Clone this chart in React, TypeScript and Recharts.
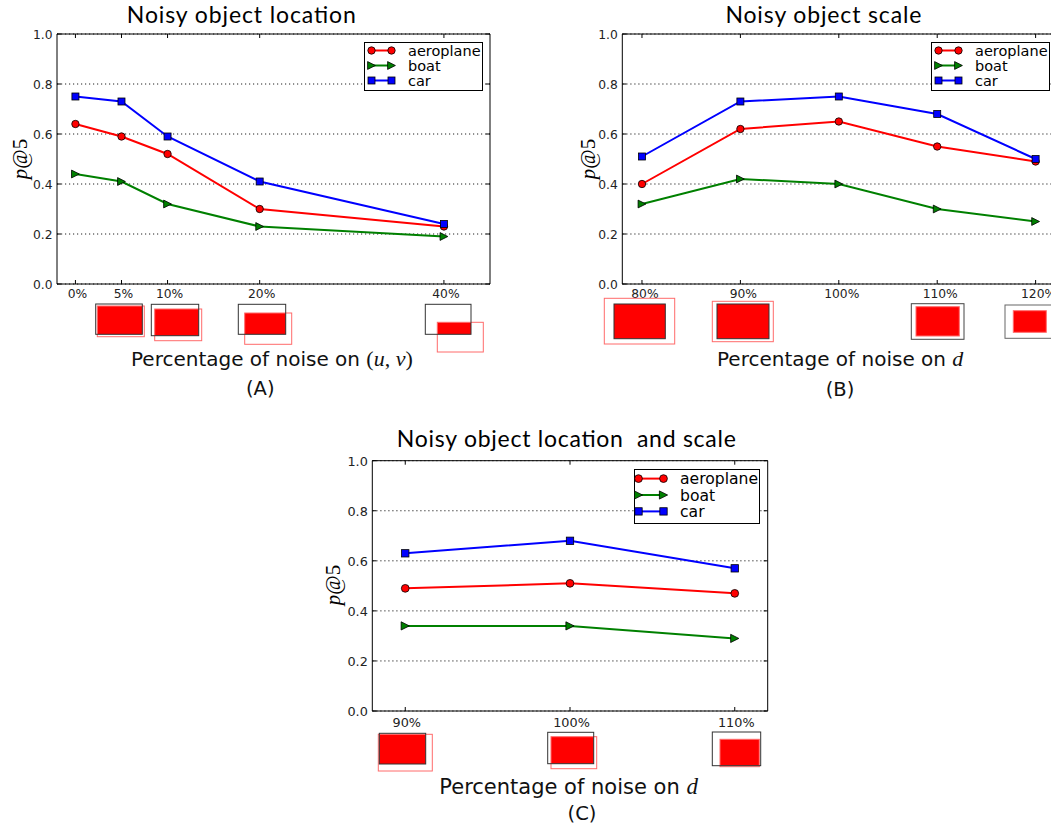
import React from 'react';
import { LineChart, Line, XAxis, YAxis, CartesianGrid, ReferenceArea, Legend } from 'recharts';

// ---------- data ----------
const noiseUV = [0, 5, 10, 20, 40];
const aeroA = [0.64, 0.59, 0.52, 0.3, 0.23];
const boatA = [0.44, 0.41, 0.32, 0.23, 0.19];
const carA = [0.75, 0.73, 0.59, 0.41, 0.24];

const noiseD = [80, 90, 100, 110, 120];
const aeroB = [0.4, 0.62, 0.65, 0.55, 0.49];
const boatB = [0.32, 0.42, 0.4, 0.3, 0.25];
const carB = [0.51, 0.73, 0.75, 0.68, 0.5];

const noiseLS = [90, 100, 110];
const aeroC = [0.49, 0.51, 0.47];
const boatC = [0.34, 0.34, 0.29];
const carC = [0.63, 0.68, 0.57];

const yTicks = [0, 0.2, 0.4, 0.6, 0.8, 1.0];
const seriesNames = ['aeroplane', 'boat', 'car'];
const seriesColors = ['#ff0000', '#008000', '#0000ff'];
const seriesShapes = ['circle', 'triangle', 'square'];

const titles = ['Noisy object location', 'Noisy object scale', 'Noisy object location  and scale'];
const panelTags = ['(A)', '(B)', '(C)'];

const buildRows = (xs: number[], a: number[], b: number[], c: number[]) =>
  xs.map((x, i) => ({ x, aeroplane: a[i], boat: b[i], car: c[i] }));

// ---------- drawing helpers ----------
function Marker({ shape, cx, cy, color, s = 1 }: any) {
  if (cx == null || cy == null) return null;
  const sw = 0.8;
  if (shape === 'circle') {
    return <circle cx={cx} cy={cy} r={3.7 * s} fill={color} stroke="#000" strokeWidth={sw} />;
  }
  if (shape === 'square') {
    const h = 3.5 * s;
    return <rect x={cx - h} y={cy - h} width={2 * h} height={2 * h} fill={color} stroke="#000" strokeWidth={sw} />;
  }
  const w = 3.9 * s;
  return (
    <polygon
      points={`${cx - w},${cy - w} ${cx + w},${cy} ${cx - w},${cy + w}`}
      fill={color}
      stroke="#000"
      strokeWidth={sw}
    />
  );
}

function LegendBox({ lg }: any) {
  return (
    <svg width={lg.w} height={lg.h} style={{ display: 'block' }}>
      <rect x={0.5} y={0.5} width={lg.w - 1} height={lg.h - 1} fill="#fff" stroke="#000" strokeWidth={1} />
      {seriesNames.map((name, i) => {
        const y = lg.row0 + i * lg.gap;
        return (
          <g key={name}>
            <line x1={lg.lx1} x2={lg.lx2} y1={y} y2={y} stroke={seriesColors[i]} strokeWidth={2} />
            <Marker shape={seriesShapes[i]} cx={lg.lx1} cy={y} color={seriesColors[i]} s={lg.ms} />
            <Marker shape={seriesShapes[i]} cx={lg.lx2} cy={y} color={seriesColors[i]} s={lg.ms} />
            <text x={lg.tx} y={y + lg.fs * 0.36} fontFamily="DejaVu Sans" fontSize={lg.fs} fill="#000">
              {name}
            </text>
          </g>
        );
      })}
    </svg>
  );
}

const Y_AXIS_W = 40;
const X_AXIS_H = 20;

function Panel({ cfg }: any) {
  const { width, height, plot, domain, ticks, rows, tickFont, tickDx, xBase, lg, ms } = cfg;
  const plotL = plot.l;
  const plotT = plot.t;
  const plotR = plot.r;
  const plotB = plot.b;
  const margin = {
    top: plotT,
    left: plotL - Y_AXIS_W,
    right: width - plotR,
    bottom: height - plotB - X_AXIS_H,
  };

  const XTick = (p: any) => {
    const x = p.x;
    return (
      <g>
        <line x1={x} x2={x} y1={plotB} y2={plotB - 4} stroke="#000" strokeWidth={1} />
        <line x1={x} x2={x} y1={plotT} y2={plotT + 4} stroke="#000" strokeWidth={1} />
        <text x={x + tickDx} y={plotB + xBase} textAnchor="middle" fontFamily="DejaVu Sans" fontSize={tickFont} fill="#222">
          {`${p.payload.value}%`}
        </text>
      </g>
    );
  };
  const YTick = (p: any) => {
    const y = p.y;
    return (
      <g>
        <line x1={plotL} x2={plotL + 4} y1={y} y2={y} stroke="#000" strokeWidth={1} />
        <line x1={plotR} x2={plotR - 4} y1={y} y2={y} stroke="#000" strokeWidth={1} />
        <text x={plotL - 4.5} y={y + tickFont * 0.36 + 0.5} textAnchor="end" fontFamily="DejaVu Sans" fontSize={tickFont} fill="#222">
          {Number(p.payload.value).toFixed(1)}
        </text>
      </g>
    );
  };

  const dotFor = (i: number) => (props: any) => (
    <Marker key={`${seriesNames[i]}-${props.index}`} shape={seriesShapes[i]} cx={props.cx} cy={props.cy} color={seriesColors[i]} s={ms} />
  );

  return (
    <LineChart width={width} height={height} data={rows} margin={margin}>
      <CartesianGrid horizontal vertical={false} stroke="#222" strokeDasharray="1.2 2.8" strokeWidth={1} />
      <XAxis
        dataKey="x"
        type="number"
        domain={domain}
        ticks={ticks}
        interval={0}
        height={X_AXIS_H}
        axisLine={false}
        tickLine={false}
        tick={XTick}
        allowDataOverflow
      />
      <YAxis
        type="number"
        domain={[0, 1]}
        ticks={yTicks}
        interval={0}
        width={Y_AXIS_W}
        axisLine={false}
        tickLine={false}
        tick={YTick}
        allowDataOverflow
      />
      <ReferenceArea x1={domain[0]} x2={domain[1]} y1={0} y2={1} fill="none" fillOpacity={0} stroke="#000" strokeWidth={1} ifOverflow="visible" />
      {seriesNames.map((name, i) => (
        <Line
          key={name}
          dataKey={name}
          stroke={seriesColors[i]}
          strokeWidth={2}
          dot={dotFor(i)}
          activeDot={false}
          isAnimationActive={false}
        />
      ))}
      <Legend
        layout="vertical"
        align="center"
        verticalAlign="middle"
        content={() => <LegendBox lg={lg} />}
        wrapperStyle={{ position: 'absolute', left: lg.left, top: lg.top, width: lg.w, height: lg.h }}
      />
    </LineChart>
  );
}

// ---------- panel layouts ----------
const panelA = {
  left: 0, top: 0, width: 520, height: 330,
  plot: { l: 57, t: 34, r: 490, b: 284 },
  domain: [-2, 45], ticks: noiseUV, rows: buildRows(noiseUV, aeroA, boatA, carA),
  tickFont: 12.3, tickDx: 2, xBase: 14, ms: 1,
  lg: { left: 364, top: 42, w: 119, h: 49, row0: 8.5, gap: 15, lx1: 7.5, lx2: 27.5, tx: 44, fs: 14.5, ms: 1 },
};
const panelB = {
  left: 560, top: 0, width: 520, height: 330,
  plot: { l: 62.3, t: 34, r: 495.3, b: 284 },
  domain: [78, 122], ticks: noiseD, rows: buildRows(noiseD, aeroB, boatB, carB),
  tickFont: 12.3, tickDx: 3, xBase: 14, ms: 1,
  lg: { left: 370.7, top: 42, w: 119, h: 49, row0: 8.5, gap: 15, lx1: 7.5, lx2: 27.5, tx: 44, fs: 14.5, ms: 1 },
};
const panelC = {
  left: 300, top: 420, width: 500, height: 340,
  plot: { l: 72.3, t: 40.7, r: 467.7, b: 291 },
  domain: [88, 112], ticks: noiseLS, rows: buildRows(noiseLS, aeroC, boatC, carC),
  tickFont: 12.8, tickDx: 1.5, xBase: 15.5, ms: 1.05,
  lg: { left: 334, top: 48.7, w: 126, h: 55, row0: 9.6, gap: 16.4, lx1: 4.5, lx2: 29.5, tx: 46, fs: 15.6, ms: 1.05 },
};

// ---------- box illustrations (ground-truth box, noisy box) ----------
type Box = [number, number, number, number];
const illusA: { gt: Box; nz: Box; gtColor: string }[] = [
  { gt: [95.7, 304, 142.3, 334.3], nz: [97.3, 306, 144.3, 336.7], gtColor: '#333' },
  { gt: [151.3, 304.3, 198.7, 335.7], nz: [154.7, 309, 201.7, 340.7], gtColor: '#333' },
  { gt: [238.3, 304.3, 285.7, 334.3], nz: [244.7, 313, 291.7, 344.3], gtColor: '#333' },
  { gt: [425.3, 304.3, 471, 334.3], nz: [437.3, 322.3, 483.3, 352], gtColor: '#333' },
];
const illusB: { gt: Box; nz: Box; gtColor: string }[] = [
  { gt: [614, 304, 665.3, 338.7], nz: [604.3, 298.3, 674.7, 344], gtColor: '#333' },
  { gt: [717, 304, 769, 338.7], nz: [712.3, 301.3, 773.3, 341.7], gtColor: '#333' },
  { gt: [911.3, 303.7, 964, 339.3], nz: [916, 306.7, 959.3, 336], gtColor: '#444' },
  { gt: [1005, 305, 1060, 338.3], nz: [1013.3, 310.7, 1046.3, 332.3], gtColor: '#666' },
];
const illusC: { gt: Box; nz: Box; gtColor: string }[] = [
  { gt: [379.3, 733.3, 425.7, 764], nz: [378.3, 734.3, 432.3, 771], gtColor: '#333' },
  { gt: [547.7, 732.3, 593.7, 763.7], nz: [551, 736.7, 596.7, 768.7], gtColor: '#333' },
  { gt: [712.3, 732, 760.7, 765.7], nz: [720, 739.3, 759.3, 766.7], gtColor: '#333' },
];

function Illustration({ gt, nz, gtColor }: any) {
  const ix0 = Math.max(gt[0], nz[0]);
  const iy0 = Math.max(gt[1], nz[1]);
  const ix1 = Math.min(gt[2], nz[2]);
  const iy1 = Math.min(gt[3], nz[3]);
  return (
    <g>
      <rect x={ix0} y={iy0} width={ix1 - ix0} height={iy1 - iy0} fill="#ff0000" />
      <rect x={nz[0]} y={nz[1]} width={nz[2] - nz[0]} height={nz[3] - nz[1]} fill="none" stroke="#ff6b6b" strokeWidth={1} />
      <rect x={gt[0]} y={gt[1]} width={gt[2] - gt[0]} height={gt[3] - gt[1]} fill="none" stroke={gtColor} strokeWidth={1} />
    </g>
  );
}

function PAt({ x, y }: { x: number; y: number }) {
  return (
    <text
      transform={`translate(${x},${y}) rotate(-90)`}
      textAnchor="middle"
      dominantBaseline="central"
      fontFamily="Liberation Serif"
      fontSize={21}
      fill="#000"
    >
      <tspan fontStyle="italic">p</tspan>
      <tspan>@5</tspan>
    </text>
  );
}

export default function App() {
  const panels = [panelA, panelB, panelC];
  return (
    <div style={{ position: 'absolute', left: 0, top: 0, width: 1051, height: 829, overflow: 'hidden', background: '#fff' }}>
      {panels.map((p, i) => (
        <div key={i} style={{ position: 'absolute', left: p.left, top: p.top }}>
          <Panel cfg={p} />
        </div>
      ))}
      <svg width={1051} height={829} style={{ position: 'absolute', left: 0, top: 0, pointerEvents: 'none' }}>
        {[...illusA, ...illusB, ...illusC].map((b, i) => (
          <Illustration key={i} {...b} />
        ))}
        {/* titles */}
        <text x={241.3} y={22.7} textAnchor="middle" fontFamily="Lato" fontSize={23} textLength={229} lengthAdjust="spacing" style={{ whiteSpace: 'pre' }}>
          {titles[0]}
        </text>
        <text x={823.4} y={22.7} textAnchor="middle" fontFamily="Lato" fontSize={23} textLength={196} lengthAdjust="spacing" style={{ whiteSpace: 'pre' }}>
          {titles[1]}
        </text>
        <text x={566.3} y={447.3} textAnchor="middle" fontFamily="Lato" fontSize={23} textLength={339} lengthAdjust="spacing" style={{ whiteSpace: 'pre' }}>
          {titles[2]}
        </text>
        {/* y labels */}
        <PAt x={20} y={159} />
        <PAt x={587.5} y={159} />
        <PAt x={333} y={585} />
        {/* x labels */}
        <text x={131} y={366} fontFamily="DejaVu Sans" fontSize={20} fill="#111" style={{ whiteSpace: 'pre' }}>
          {'Percentage of noise on '}
          <tspan fontFamily="Liberation Serif" fontSize={22}>(</tspan>
          <tspan fontFamily="Liberation Serif" fontStyle="italic" fontSize={22}>u</tspan>
          <tspan fontFamily="Liberation Serif" fontSize={22}>{', '}</tspan>
          <tspan fontFamily="Liberation Serif" fontStyle="italic" fontSize={22}>v</tspan>
          <tspan fontFamily="Liberation Serif" fontSize={22}>)</tspan>
        </text>
        <text x={717} y={366} fontFamily="DejaVu Sans" fontSize={20} fill="#111" style={{ whiteSpace: 'pre' }}>
          {'Percentage of noise on '}
          <tspan fontFamily="Liberation Serif" fontStyle="italic" fontSize={22}>d</tspan>
        </text>
        <text x={439.3} y={794.3} fontFamily="DejaVu Sans" fontSize={21} fill="#111" style={{ whiteSpace: 'pre' }}>
          {'Percentage of noise on '}
          <tspan fontFamily="Liberation Serif" fontStyle="italic" fontSize={23}>d</tspan>
        </text>
        {/* panel tags */}
        <text x={260.3} y={395} textAnchor="middle" fontFamily="DejaVu Sans" fontSize={19.5} fill="#111">{panelTags[0]}</text>
        <text x={840} y={395.5} textAnchor="middle" fontFamily="DejaVu Sans" fontSize={19.5} fill="#111">{panelTags[1]}</text>
        <text x={582} y={820} textAnchor="middle" fontFamily="DejaVu Sans" fontSize={19.5} fill="#111">{panelTags[2]}</text>
      </svg>
    </div>
  );
}
